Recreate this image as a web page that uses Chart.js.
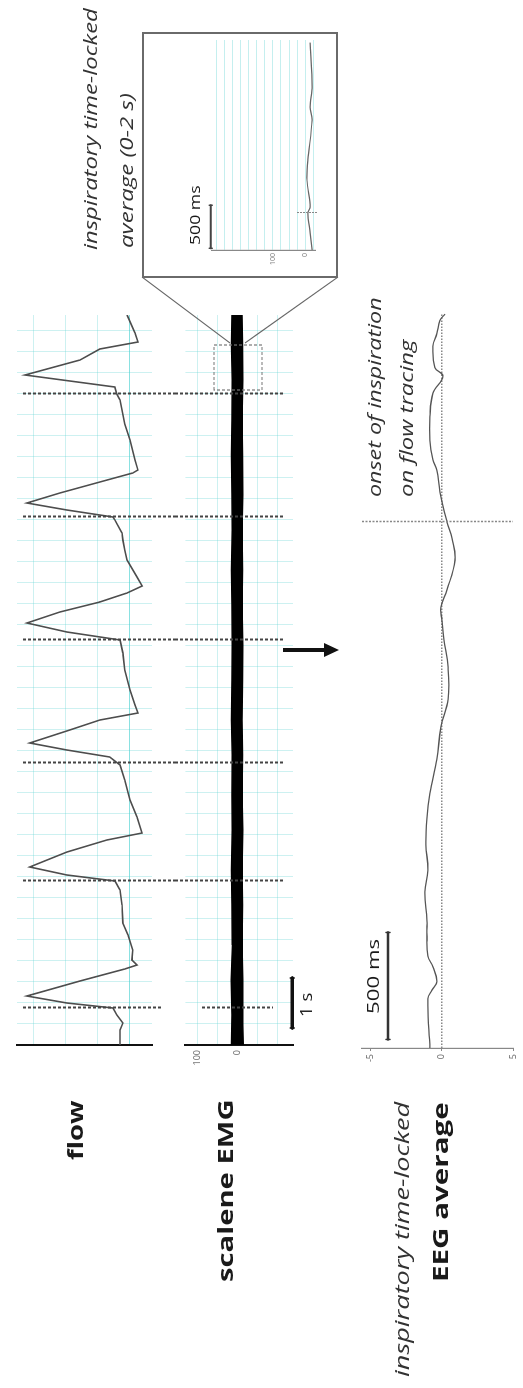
<!DOCTYPE html>
<html>
<head>
<meta charset="utf-8">
<script src="https://cdn.jsdelivr.net/npm/chart.js@4.4.1/dist/chart.umd.min.js"></script>
<style>
  html, body { margin: 0; padding: 0; background: #fff; }
  body { width: 523px; height: 1388px; overflow: hidden; position: relative; }
  /* the figure is laid out landscape (1388 x 523) and turned a quarter to the left */
  #fig { position: absolute; left: 0; top: 1388px; width: 1388px; height: 523px;
         transform-origin: 0 0; transform: rotate(-90deg);
         font-family: "Open Sans", sans-serif; color: #222; }
  #fig canvas, #fig svg, #fig .box { position: absolute; }
  .lbl { position: absolute; white-space: nowrap; line-height: 1; transform-origin: 0 50%; }
  .box { border: 2px solid #6a6a6a; box-sizing: border-box; background: #fff; }
</style>
</head>
<body>
<div id="fig">
  <canvas id="flow" width="800" height="175" style="left:300px;top:0px"></canvas>
  <canvas id="emg" width="800" height="135" style="left:300px;top:175px"></canvas>
  <canvas id="eeg" width="800" height="178" style="left:300px;top:345px"></canvas>
  <svg width="1388" height="523" style="left:0;top:0">
    <line x1="1045" y1="230" x2="1111" y2="142" stroke="#666" stroke-width="1.2"/>
    <line x1="1045" y1="245" x2="1111" y2="338" stroke="#666" stroke-width="1.2"/>
    <rect x="998" y="214" width="45" height="48" fill="none" stroke="#777" stroke-width="1.2" stroke-dasharray="3 2"/>
    <line x1="738" y1="283" x2="738" y2="326" stroke="#111" stroke-width="4"/>
    <polygon points="731,324 745,324 738,339" fill="#111"/>
  </svg>
  <div class="box" style="left:1110px;top:142px;width:246px;height:196px"></div>
  <canvas id="inset" width="246" height="196" style="left:1110px;top:142px"></canvas>
</div>
<script>
// breathing flow (s, arbitrary units)
const flowTime = [0.00, 0.30, 0.44, 0.60, 0.74, 0.84, 0.98, 1.28, 1.52, 1.60, 1.70, 1.90, 2.20, 2.44, 2.80,
  3.10, 3.28, 3.40, 3.56, 3.86, 4.10, 4.24, 4.56, 4.90, 5.05, 5.30, 5.60, 5.76, 5.90, 6.04, 6.30, 6.50,
  6.64, 6.80, 7.10, 7.50, 7.84, 8.10, 8.26, 8.44, 8.66, 8.86, 9.04, 9.18, 9.36, 9.70, 9.90, 10.10,
  10.24, 10.50, 10.56, 10.70, 10.84, 11.04, 11.26, 11.44, 11.50, 11.70, 12.10, 12.42, 12.70, 12.90,
  13.02, 13.16, 13.40, 13.70, 13.92, 14.06, 14.24, 14.60];
const flowValue = [0.31, 0.31, 0.22, 0.41, 0.53, 1.97, 3.22, 1.56, 0.16, -0.22, -0.06, -0.09, 0.06, 0.22, 0.25,
  0.31, 0.47, 1.97, 3.13, 1.97, 0.72, -0.38, -0.22, 0.00, 0.06, 0.16, 0.31, 0.63, 1.97, 3.13, 1.88, 0.94,
  -0.25, -0.16, 0.00, 0.16, 0.22, 0.31, 1.97, 3.22, 2.19, 0.94, 0.09, -0.38, -0.22, 0.09, 0.16, 0.22,
  0.25, 0.47, 0.53, 1.97, 3.22, 2.19, 0.94, -0.09, -0.25, -0.16, 0.00, 0.16, 0.25, 0.31,
  0.41, 0.47, 3.28, 1.56, 0.94, -0.25, -0.16, 0.09];
const flowGrid = [0, 1, 2, 3];

// scalene EMG envelope (s, uV)
const emgTime = [0, 0.6, 1.3, 2.0, 2.8, 3.5, 4.3, 5.0, 5.8, 6.5, 7.3, 8.0, 8.8, 9.5, 10.3, 11.0, 11.8, 12.5, 13.3, 14.0, 14.6];
const emgUpper = [14, 13, 15, 12, 13, 14, 12, 13, 12, 14, 13, 12, 13, 14, 12, 13, 14, 13, 12, 14, 13];
const emgLower = [-15, -13, -14, -12, -13, -12, -14, -12, -13, -12, -13, -14, -12, -13, -12, -14, -13, -12, -14, -13, -12];
const emgTicks = [0, 100];
const emgGrid = [-100, -50, 0, 50, 100];

// onsets of inspiration on the flow tracing (s)
const onsetTimes = [0.74, 3.28, 5.64, 8.10, 10.56, 13.02];

// inspiratory time-locked EEG average (s from onset, uV)
const eegTime = [-2.46, -2.23, -2.19, -2.15, -2.08, -2.03, -1.92, -1.86, -1.73, -1.63, -1.51, -1.39, -1.27,
  -1.11, -0.96, -0.83, -0.68, -0.55, -0.46, -0.40, -0.32, -0.18, -0.08, 0, 0.14, 0.24, 0.29, 0.38,
  0.49, 0.60, 0.68, 0.72, 0.82, 0.88, 0.94, 0.97];
const eegValue = [-0.83, -0.97, -0.69, -0.34, -0.62, -0.97, -1.04, -1.04, -1.18, -0.97, -1.11, -1.04, -0.83,
  -0.34, -0.06, 0.44, 0.44, 0.15, 0.01, -0.06, 0.36, 0.93, 0.72, 0.36, -0.13, -0.34, -0.62, -0.83,
  -0.83, -0.62, 0.08, -0.48, -0.62, -0.34, -0.13, 0.22];
const eegTicks = [-5, 0, 5];

// inspiratory time-locked EMG average, 0-2 s
const insetTime = [0, 0.20, 0.43, 0.50, 0.81, 1.05, 1.51, 1.66, 1.90, 2.41];
const insetValue = [-22, -16, -9, -16, -6, -9, -22, -16, -22, -16];
const insetTicks = [0, 100];
const insetGrid = [-25, 0, 25, 50, 75, 100, 125, 150, 175, 200, 225, 250, 275];

Chart.defaults.font.family = "'Open Sans', sans-serif";
const cyan = 'rgba(90,210,210,0.30)';
const fixW = w => s => { s.width = w; };
const zeroH = s => { s.height = 0; };
const pts = (xs, ys) => xs.map((x, i) => ({ x: x, y: ys[i] }));

function onsetPlugin(cfg) {
  return {
    id: 'onset',
    afterDatasetsDraw(chart) {
      const { ctx, chartArea } = chart;
      const xs = chart.scales.x;
      ctx.save();
      ctx.strokeStyle = cfg.color;
      ctx.lineWidth = cfg.width;
      ctx.setLineDash(cfg.dash);
      cfg.times.forEach((t, i) => {
        const span = (cfg.spans && cfg.spans[i]) || cfg.span || [chartArea.top, chartArea.bottom];
        const px = Math.round(xs.getPixelForValue(t)) + 0.5;
        ctx.beginPath();
        ctx.moveTo(px, span[0]);
        ctx.lineTo(px, span[1]);
        ctx.stroke();
      });
      ctx.restore();
    }
  };
}

function barPlugin(b) {
  return {
    id: 'scalebar',
    afterDatasetsDraw(chart) {
      const { ctx, scales } = chart;
      const x0 = scales.x.getPixelForValue(b.from);
      const x1 = scales.x.getPixelForValue(b.from + b.len);
      const py = scales.y.getPixelForValue(b.at);
      ctx.save();
      ctx.strokeStyle = b.color;
      ctx.lineWidth = b.width;
      ctx.lineCap = 'round';
      ctx.beginPath();
      ctx.moveTo(x0, py);
      ctx.lineTo(x1, py);
      ctx.stroke();
      ctx.lineWidth = 1.5;
      ctx.beginPath();
      ctx.moveTo(x0, py - b.cap); ctx.lineTo(x0, py + b.cap);
      ctx.moveTo(x1, py - b.cap); ctx.lineTo(x1, py + b.cap);
      ctx.stroke();
      ctx.restore();
    }
  };
}

const common = {
  responsive: false,
  animation: false,
  events: [],
  plugins: { legend: { display: false }, tooltip: { enabled: false } }
};

// flow
new Chart(document.getElementById('flow'), {
  type: 'line',
  data: { datasets: [{ data: pts(flowTime, flowValue), borderColor: '#4d4d4d', borderWidth: 1.6, pointRadius: 0, tension: 0 }] },
  options: Object.assign({}, common, {
    layout: { padding: { left: 43, right: 27, top: 17, bottom: 23 } },
    scales: {
      x: { type: 'linear', min: 0, max: 14.6, afterFit: zeroH,
           ticks: { display: false, stepSize: 0.42, includeBounds: false, maxTicksLimit: 100 },
           grid: { color: cyan, drawTicks: false }, border: { display: false } },
      y: { min: -0.69, max: 3.53, afterFit: fixW(0),
           afterBuildTicks: s => { s.ticks = flowGrid.map(v => ({ value: v })); },
           ticks: { display: false },
           grid: { color: c => c.tick && c.tick.value === 0 ? 'rgba(60,205,205,0.6)' : cyan, drawTicks: false },
           border: { display: true, color: '#111', width: 2 } }
    }
  }),
  plugins: [onsetPlugin({ times: onsetTimes, color: '#444', width: 2, dash: [3, 2],
    spans: [[23, 162]], span: [23, 175] })]
});

// scalene EMG
new Chart(document.getElementById('emg'), {
  type: 'line',
  data: { datasets: [
    { data: pts(emgTime, emgLower), borderColor: '#000', borderWidth: 1.5, pointRadius: 0, fill: false },
    { data: pts(emgTime, emgUpper), borderColor: '#000', borderWidth: 1.5, pointRadius: 0, fill: '-1', backgroundColor: '#000' }
  ] },
  options: Object.assign({}, common, {
    layout: { padding: { left: 13, right: 27, top: 8, bottom: 17 } },
    scales: {
      x: { type: 'linear', min: 0, max: 14.6, afterFit: zeroH,
           ticks: { display: false, stepSize: 0.42, includeBounds: false, maxTicksLimit: 100 },
           grid: { color: cyan, drawTicks: false }, border: { display: false } },
      y: { min: -139, max: 129, afterFit: fixW(30),
           afterBuildTicks: s => { s.ticks = emgGrid.map(v => ({ value: v })); },
           ticks: { padding: 5, color: '#666', font: { size: 9 }, autoSkip: false,
                    callback: v => emgTicks.includes(v) ? v : '' },
           grid: { color: cyan, drawTicks: false },
           border: { display: true, color: '#111', width: 2 } }
    }
  }),
  plugins: [
    onsetPlugin({ times: onsetTimes, color: '#444', width: 2, dash: [3, 2], spans: [[27, 98]], span: [0, 110] }),
    barPlugin({ from: 0.34, len: 1, at: -137, color: '#111', width: 3.5, cap: 2 })
  ]
});

// EEG average
new Chart(document.getElementById('eeg'), {
  type: 'line',
  data: { datasets: [
    { data: pts(eegTime, eegValue), borderColor: '#555', borderWidth: 1.3, pointRadius: 0, tension: 0.4 },
    { data: pts([eegTime[0], eegTime[eegTime.length - 1]], [0, 0]), borderColor: '#888', borderWidth: 1.5,
      borderDash: [1.5, 1.5], pointRadius: 0 }
  ] },
  options: Object.assign({}, common, {
    layout: { padding: { left: 10, right: 24, top: 17, bottom: 10 } },
    scales: {
      x: { type: 'linear', min: -2.46, max: 0.98, display: false },
      y: { reverse: true, min: -5.6, max: 5, afterFit: fixW(30),
           afterBuildTicks: s => { s.ticks = eegTicks.map(v => ({ value: v })); },
           ticks: { padding: 3, color: '#666', font: { size: 9 }, autoSkip: false },
           grid: { drawOnChartArea: false, drawTicks: true, tickLength: 3, color: '#888' },
           border: { display: true, color: '#888', width: 1.2 } }
    }
  }),
  plugins: [
    onsetPlugin({ times: [0], color: '#888', width: 1.5, dash: [2, 1.5] }),
    barPlugin({ from: -2.42, len: 0.5, at: -3.78, color: '#333', width: 2.5, cap: 2 })
  ]
});

// inset: 0-2 s EMG average
new Chart(document.getElementById('inset'), {
  type: 'line',
  data: { datasets: [{ data: pts(insetTime, insetValue), borderColor: '#666', borderWidth: 1.2, pointRadius: 0, tension: 0.3 }] },
  options: Object.assign({}, common, {
    layout: { padding: { left: 8, right: 8, top: 70, bottom: 23 } },
    scales: {
      x: { type: 'linear', min: 0, max: 2.44, display: false },
      y: { min: -31, max: 290, afterFit: fixW(20),
           afterBuildTicks: s => { s.ticks = insetGrid.map(v => ({ value: v })); },
           ticks: { padding: 3, color: '#777', font: { size: 7 }, autoSkip: false,
                    callback: v => insetTicks.includes(v) ? v : '' },
           grid: { color: 'rgba(90,210,210,0.35)', drawTicks: false },
           border: { display: true, color: '#888', width: 1.2 } }
    }
  }),
  plugins: [
    onsetPlugin({ times: [0.43], color: '#888', width: 1, dash: [2, 1], span: [155, 176] }),
    barPlugin({ from: 0.02, len: 0.5, at: 294, color: '#444', width: 2, cap: 1.5 })
  ]
});

// text
const fig = document.getElementById('fig');
const labels = [
  { text: 'inspiratory time-locked', u: 1138, v: 91, size: 18, italic: true, len: 242 },
  { text: 'average (0-2 s)', u: 1140, v: 127, size: 18, italic: true, len: 155 },
  { text: 'onset of inspiration', u: 891, v: 375, size: 19, italic: true, len: 200 },
  { text: 'on flow tracing', u: 891, v: 407, size: 19, italic: true, len: 157 },
  { text: 'flow', u: 288, v: 75, size: 22, bold: true, len: 60, align: 'right' },
  { text: 'scalene EMG', u: 288, v: 225, size: 22, bold: true, len: 182, align: 'right' },
  { text: 'inspiratory time-locked', u: 286, v: 403, size: 20, italic: true, len: 275, align: 'right' },
  { text: 'EEG average', u: 286, v: 440, size: 22, bold: true, len: 180, align: 'right' },
  { text: '500 ms', u: 411, v: 374, size: 16, len: 75, align: 'center' },
  { text: '1 s', u: 383, v: 306, size: 17, len: 24, align: 'center' },
  { text: '500 ms', u: 1173, v: 195, size: 15, len: 60, align: 'center' }
];
labels.forEach(l => {
  const el = document.createElement('div');
  el.className = 'lbl';
  el.textContent = l.text;
  el.style.fontSize = l.size + 'px';
  el.style.fontWeight = l.bold ? '700' : '400';
  el.style.fontStyle = l.italic ? 'italic' : 'normal';
  el.style.color = l.italic ? '#333' : '#1a1a1a';
  fig.appendChild(el);
  const k = l.len / el.offsetWidth;
  el.style.transform = 'scaleX(' + k + ')';
  let left = l.u;
  if (l.align === 'right') left = l.u - l.len;
  if (l.align === 'center') left = l.u - l.len / 2;
  el.style.left = left + 'px';
  el.style.top = (l.v - l.size * 0.55) + 'px';
});
</script>
</body>
</html>
